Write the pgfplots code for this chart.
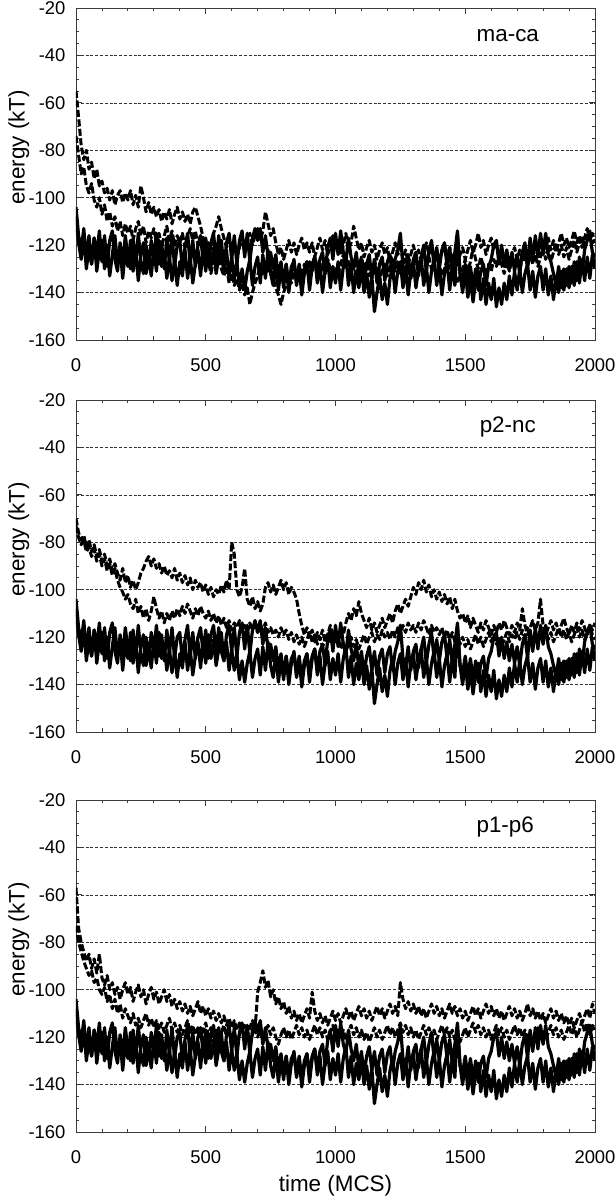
\documentclass[border=0pt]{standalone}
\usepackage{pgfplots}
\usepackage{pgfplotstable}
\usepackage{fontspec}
\setmainfont{Liberation Sans}
\pgfplotsset{compat=1.18}

\pgfplotstableread[row sep=\\]{y\\
-108\\-119\\-126\\-116\\-130\\-121\\-128\\-117\\-131\\-122\\
-118\\-130\\-120\\-133\\-124\\-116\\-128\\-121\\-134\\-122\\
-129\\-118\\-131\\-122\\-135\\-124\\-119\\-132\\-125\\-133\\
-121\\-131\\-118\\-129\\-123\\-134\\-125\\-135\\-126\\-137\\
-127\\-133\\-122\\-134\\-125\\-136\\-128\\-122\\-133\\-121\\
-131\\-119\\-129\\-121\\-132\\-125\\-118\\-130\\-122\\-134\\
-125\\-134\\-127\\-138\\-130\\-139\\-131\\-126\\-137\\-129\\
-125\\-136\\-124\\-134\\-122\\-132\\-137\\-127\\-139\\-129\\
-138\\-128\\-140\\-131\\-126\\-137\\-129\\-141\\-132\\-127\\
-139\\-129\\-125\\-136\\-128\\-140\\-131\\-126\\-138\\-129\\
-136\\-127\\-139\\-129\\-124\\-137\\-128\\-140\\-131\\-138\\
-129\\-140\\-132\\-142\\-133\\-148\\-140\\-133\\-143\\-136\\
-145\\-134\\-129\\-140\\-131\\-127\\-138\\-129\\-141\\-131\\
-127\\-138\\-130\\-125\\-137\\-129\\-140\\-131\\-126\\-137\\
-129\\-141\\-132\\-127\\-139\\-129\\-137\\-116\\-132\\-140\\
-130\\-142\\-134\\-144\\-135\\-131\\-143\\-134\\-145\\-136\\
-143\\-134\\-146\\-138\\-145\\-136\\-143\\-133\\-141\\-131\\
-139\\-130\\-140\\-132\\-128\\-139\\-131\\-142\\-133\\-129\\
-139\\-130\\-141\\-133\\-143\\-134\\-140\\-131\\-139\\-130\\
-138\\-129\\-137\\-127\\-136\\-126\\-135\\-125\\-134\\-124\\
-130\\}\tR

\pgfplotstableread[row sep=\\]{y\\
-104\\-116\\-122\\-113\\-126\\-116\\-128\\-117\\-124\\-114\\
-127\\-116\\-129\\-118\\-114\\-126\\-131\\-119\\-128\\-116\\
-125\\-130\\-117\\-128\\-115\\-127\\-132\\-120\\-129\\-118\\
-126\\-115\\-128\\-119\\-130\\-117\\-127\\-116\\-129\\-120\\
-118\\-130\\-121\\-115\\-128\\-118\\-129\\-120\\-116\\-127\\
-117\\-129\\-119\\-115\\-127\\-116\\-126\\-130\\-119\\-115\\
-126\\-116\\-128\\-118\\-114\\-125\\-115\\-127\\-117\\-113\\
-118\\-113\\-123\\-116\\-125\\-123\\-130\\-124\\-134\\-127\\
-136\\-128\\-137\\-129\\-127\\-136\\-128\\-138\\-130\\-127\\
-136\\-128\\-125\\-134\\-126\\-123\\-132\\-121\\-117\\-126\\
-115\\-124\\-114\\-123\\-127\\-117\\-125\\-130\\-123\\-133\\
-126\\-136\\-128\\-124\\-134\\-126\\-136\\-128\\-125\\-135\\
-127\\-124\\-134\\-126\\-122\\-115\\-129\\-133\\-124\\-134\\
-126\\-123\\-133\\-125\\-120\\-131\\-123\\-118\\-129\\-121\\
-130\\-122\\-119\\-129\\-121\\-131\\-123\\-114\\-132\\-135\\
-128\\-137\\-129\\-138\\-130\\-139\\-131\\-128\\-137\\-129\\
-126\\-120\\-118\\-128\\-120\\-129\\-122\\-130\\-123\\-131\\
-124\\-132\\-123\\-119\\-129\\-117\\-126\\-116\\-125\\-115\\
-123\\-115\\-124\\-127\\-132\\-137\\-129\\-138\\-130\\-137\\
-129\\-136\\-127\\-135\\-125\\-132\\-122\\-118\\-115\\-123\\
-125\\}\tS

\pgfplotstableread[row sep=\\]{y\\
-55\\-66\\-78\\-84\\-80\\-88\\-85\\-92\\-88\\-95\\
-93\\-98\\-96\\-101\\-97\\-103\\-99\\-97\\-102\\-98\\
-101\\-97\\-103\\-99\\-104\\-95\\-100\\-106\\-102\\-107\\
-104\\-108\\-105\\-110\\-106\\-109\\-105\\-111\\-107\\-104\\
-109\\-106\\-110\\-107\\-111\\-106\\-104\\-108\\-112\\-117\\
-121\\-127\\-132\\-126\\-129\\-124\\-130\\-133\\-129\\-136\\
-132\\-137\\-134\\-139\\-136\\-141\\-138\\-145\\-140\\-136\\
-133\\-128\\-132\\-127\\-131\\-128\\-134\\-138\\-141\\-145\\
-140\\-137\\-133\\-136\\-131\\-134\\-129\\-133\\-128\\-131\\
-127\\-131\\-125\\-129\\-133\\-128\\-132\\-126\\-130\\-134\\
-129\\-133\\-128\\-124\\-130\\-126\\-131\\-127\\-133\\-129\\
-125\\-130\\-127\\-133\\-129\\-126\\-131\\-135\\-130\\-128\\
-133\\-129\\-126\\-131\\-127\\-132\\-128\\-125\\-130\\-134\\
-129\\-126\\-131\\-127\\-123\\-129\\-125\\-130\\-127\\-132\\
-128\\-133\\-130\\-126\\-131\\-135\\-132\\-136\\-133\\-130\\
-126\\-131\\-127\\-121\\-126\\-130\\-125\\-129\\-133\\-128\\
-131\\-126\\-129\\-124\\-128\\-132\\-127\\-131\\-126\\-129\\
-125\\-130\\-126\\-122\\-127\\-123\\-128\\-124\\-129\\-125\\
-121\\-126\\-122\\-127\\-123\\-119\\-124\\-120\\-125\\-121\\
-126\\-122\\-118\\-123\\-119\\-116\\-121\\-117\\-114\\-119\\
-118\\}\pAa

\pgfplotstableread[row sep=\\]{y\\
-74\\-82\\-90\\-87\\-95\\-98\\-94\\-101\\-104\\-100\\
-107\\-103\\-110\\-106\\-112\\-108\\-114\\-110\\-116\\-111\\
-115\\-112\\-118\\-113\\-110\\-116\\-112\\-119\\-114\\-117\\
-113\\-119\\-115\\-121\\-116\\-112\\-118\\-114\\-120\\-116\\
-119\\-115\\-121\\-117\\-113\\-118\\-114\\-120\\-116\\-121\\
-118\\-124\\-120\\-115\\-112\\-108\\-113\\-117\\-121\\-118\\
-123\\-119\\-125\\-121\\-117\\-122\\-118\\-115\\-120\\-116\\
-113\\-118\\-114\\-106\\-111\\-116\\-113\\-119\\-124\\-121\\
-126\\-122\\-118\\-123\\-119\\-124\\-120\\-117\\-122\\-119\\
-123\\-119\\-125\\-121\\-117\\-122\\-118\\-124\\-120\\-116\\
-121\\-118\\-124\\-120\\-115\\-122\\-119\\-112\\-117\\-122\\
-119\\-125\\-121\\-118\\-123\\-120\\-126\\-122\\-119\\-124\\
-121\\-127\\-123\\-119\\-124\\-121\\-126\\-122\\-128\\-124\\
-120\\-125\\-122\\-127\\-123\\-119\\-124\\-121\\-126\\-122\\
-127\\-123\\-120\\-125\\-121\\-127\\-123\\-128\\-124\\-121\\
-126\\-122\\-118\\-123\\-120\\-115\\-121\\-118\\-124\\-120\\
-117\\-122\\-119\\-125\\-121\\-126\\-123\\-128\\-124\\-121\\
-126\\-122\\-127\\-124\\-129\\-125\\-121\\-126\\-123\\-119\\
-124\\-120\\-117\\-122\\-118\\-123\\-119\\-115\\-120\\-117\\
-121\\-118\\-114\\-119\\-116\\-121\\-117\\-113\\-118\\-115\\
-119\\}\pAb

\pgfplotstableread[row sep=\\]{y\\
-70\\-76\\-79\\-77\\-82\\-79\\-84\\-81\\-86\\-83\\
-88\\-85\\-90\\-87\\-92\\-89\\-93\\-96\\-91\\-97\\
-94\\-99\\-96\\-100\\-97\\-93\\-91\\-88\\-86\\-90\\
-87\\-91\\-89\\-93\\-90\\-94\\-92\\-95\\-91\\-96\\
-93\\-97\\-94\\-98\\-95\\-100\\-96\\-99\\-97\\-101\\
-98\\-102\\-99\\-103\\-100\\-102\\-98\\-101\\-96\\-100\\
-80\\-85\\-100\\-103\\-99\\-91\\-104\\-107\\-103\\-108\\
-105\\-109\\-106\\-99\\-97\\-101\\-98\\-102\\-99\\-96\\
-100\\-97\\-102\\-99\\-101\\-104\\-110\\-115\\-119\\-116\\
-120\\-117\\-122\\-118\\-121\\-117\\-122\\-119\\-115\\-120\\
-117\\-121\\-116\\-119\\-114\\-110\\-113\\-108\\-111\\-105\\
-110\\-113\\-116\\-112\\-117\\-114\\-118\\-115\\-112\\-116\\
-113\\-110\\-114\\-109\\-106\\-110\\-107\\-104\\-107\\-103\\
-99\\-102\\-97\\-100\\-96\\-101\\-98\\-103\\-100\\-104\\
-101\\-105\\-102\\-106\\-103\\-108\\-104\\-109\\-112\\-110\\
-114\\-111\\-116\\-112\\-115\\-118\\-114\\-117\\-113\\-116\\
-119\\-115\\-118\\-114\\-117\\-113\\-116\\-119\\-115\\-118\\
-114\\-117\\-108\\-115\\-119\\-116\\-113\\-117\\-114\\-104\\
-115\\-119\\-116\\-113\\-117\\-114\\-118\\-115\\-112\\-116\\
-119\\-115\\-118\\-114\\-117\\-113\\-116\\-119\\-115\\-117\\
-114\\}\pBa

\pgfplotstableread[row sep=\\]{y\\
-73\\-78\\-81\\-79\\-84\\-82\\-86\\-83\\-88\\-85\\
-90\\-87\\-92\\-89\\-94\\-91\\-96\\-99\\-101\\-104\\
-102\\-106\\-108\\-104\\-110\\-107\\-112\\-108\\-113\\-109\\
-103\\-108\\-112\\-109\\-114\\-110\\-113\\-109\\-112\\-108\\
-111\\-107\\-110\\-106\\-109\\-112\\-108\\-111\\-107\\-110\\
-112\\-109\\-113\\-110\\-114\\-111\\-115\\-112\\-116\\-113\\
-117\\-114\\-116\\-113\\-117\\-115\\-118\\-114\\-117\\-115\\
-118\\-115\\-117\\-114\\-118\\-116\\-119\\-117\\-120\\-116\\
-119\\-117\\-121\\-118\\-122\\-119\\-123\\-120\\-124\\-121\\
-118\\-122\\-119\\-123\\-120\\-124\\-121\\-118\\-122\\-119\\
-123\\-120\\-125\\-122\\-126\\-123\\-120\\-124\\-121\\-125\\
-122\\-119\\-123\\-120\\-118\\-122\\-119\\-121\\-117\\-120\\
-118\\-121\\-117\\-120\\-116\\-119\\-115\\-118\\-114\\-117\\
-115\\-118\\-114\\-117\\-113\\-116\\-119\\-115\\-118\\-116\\
-119\\-116\\-120\\-117\\-121\\-118\\-122\\-119\\-123\\-120\\
-124\\-121\\-125\\-122\\-119\\-123\\-120\\-124\\-121\\-118\\
-122\\-119\\-123\\-120\\-124\\-121\\-118\\-122\\-119\\-121\\
-118\\-121\\-117\\-120\\-116\\-119\\-122\\-118\\-121\\-117\\
-120\\-117\\-121\\-118\\-122\\-119\\-116\\-120\\-117\\-121\\
-118\\-122\\-119\\-116\\-120\\-117\\-121\\-118\\-115\\-119\\
-121\\}\pBb

\pgfplotstableread[row sep=\\]{y\\
-57\\-74\\-80\\-84\\-88\\-85\\-91\\-87\\-93\\-85\\
-95\\-98\\-94\\-100\\-97\\-102\\-99\\-104\\-100\\-97\\
-102\\-99\\-105\\-101\\-98\\-103\\-100\\-106\\-102\\-99\\
-104\\-101\\-106\\-103\\-100\\-105\\-102\\-107\\-104\\-108\\
-105\\-109\\-106\\-110\\-107\\-111\\-108\\-105\\-110\\-107\\
-111\\-108\\-112\\-109\\-113\\-110\\-114\\-111\\-115\\-112\\
-116\\-113\\-117\\-114\\-118\\-115\\-119\\-116\\-113\\-117\\
-101\\-97\\-92\\-99\\-96\\-103\\-100\\-106\\-103\\-108\\
-105\\-110\\-107\\-112\\-109\\-113\\-110\\-114\\-111\\-108\\
-112\\-101\\-109\\-113\\-110\\-114\\-111\\-115\\-112\\-109\\
-113\\-110\\-114\\-111\\-108\\-112\\-109\\-113\\-110\\-107\\
-111\\-108\\-112\\-109\\-113\\-110\\-107\\-111\\-108\\-112\\
-109\\-106\\-110\\-107\\-111\\-97\\-104\\-108\\-105\\-109\\
-106\\-110\\-107\\-111\\-108\\-112\\-109\\-106\\-110\\-107\\
-111\\-108\\-112\\-109\\-106\\-110\\-107\\-111\\-108\\-112\\
-109\\-113\\-110\\-107\\-111\\-108\\-112\\-109\\-106\\-110\\
-107\\-111\\-108\\-112\\-109\\-113\\-110\\-107\\-111\\-108\\
-112\\-109\\-113\\-110\\-106\\-111\\-108\\-112\\-109\\-113\\
-110\\-114\\-111\\-108\\-112\\-109\\-113\\-110\\-114\\-111\\
-115\\-112\\-116\\-113\\-110\\-114\\-111\\-108\\-112\\-106\\
-110\\}\pCa

\pgfplotstableread[row sep=\\]{y\\
-73\\-80\\-84\\-88\\-91\\-94\\-92\\-97\\-95\\-100\\
-102\\-99\\-105\\-102\\-108\\-104\\-110\\-106\\-112\\-108\\
-111\\-114\\-110\\-115\\-112\\-116\\-113\\-110\\-115\\-112\\
-116\\-113\\-117\\-114\\-118\\-115\\-112\\-117\\-114\\-118\\
-115\\-119\\-116\\-113\\-118\\-115\\-119\\-116\\-120\\-117\\
-114\\-119\\-116\\-120\\-117\\-121\\-118\\-115\\-120\\-117\\
-121\\-118\\-122\\-119\\-116\\-121\\-118\\-122\\-119\\-116\\
-120\\-117\\-121\\-118\\-115\\-119\\-116\\-120\\-123\\-119\\
-116\\-120\\-117\\-121\\-118\\-115\\-119\\-116\\-120\\-117\\
-121\\-118\\-115\\-119\\-116\\-120\\-117\\-121\\-118\\-115\\
-119\\-116\\-120\\-117\\-121\\-118\\-115\\-119\\-116\\-120\\
-117\\-121\\-118\\-122\\-119\\-116\\-120\\-117\\-121\\-118\\
-115\\-119\\-116\\-120\\-117\\-114\\-118\\-115\\-119\\-116\\
-120\\-117\\-121\\-118\\-115\\-119\\-116\\-120\\-117\\-121\\
-118\\-115\\-119\\-116\\-120\\-117\\-121\\-118\\-122\\-119\\
-116\\-120\\-117\\-114\\-118\\-115\\-119\\-116\\-120\\-117\\
-121\\-118\\-115\\-119\\-116\\-120\\-117\\-121\\-118\\-115\\
-119\\-116\\-120\\-117\\-121\\-118\\-122\\-119\\-116\\-120\\
-117\\-121\\-118\\-115\\-119\\-116\\-120\\-117\\-121\\-118\\
-115\\-119\\-116\\-120\\-117\\-113\\-118\\-114\\-119\\-115\\
-118\\}\pCb

\definecolor{framec}{RGB}{60,60,60}
\pgfplotsset{
  panel/.style={
    scale only axis, width=519bp, height=332bp,
    xmin=0, xmax=2000, ymin=-160, ymax=-20,
    xtick={0,500,1000,1500,2000}, minor x tick num=4,
    ytick={-160,-140,-120,-100,-80,-60,-40,-20}, minor y tick num=3,
    tick align=inside,
    major tick length=6bp, minor tick length=3.5bp,
    axis line style={framec, line width=0.9bp},
    every tick/.style={framec, line width=0.8bp},
    /pgf/number format/assume math mode=true,
    /pgf/number format/1000 sep={},
    ticklabel style={font=\fontsize{18.5}{18.5}\selectfont},
    xticklabel style={yshift=-15bp},
    yticklabel style={xshift=-7bp},
    extra y ticks={-140,-120,-100,-80,-60,-40},
    extra y tick labels={},
    extra y tick style={grid=major, major tick length=0pt,
      major grid style={black!80, line width=0.6bp, dash pattern=on 3bp off 1.8bp}},
    ylabel={energy (kT)},
    ylabel style={font=\fontsize{22.5}{22.5}\selectfont, at={(axis description cs:-0.110,0.58)}, anchor=center, rotate=0},
    every axis plot/.append style={black, line width=3bp, line join=round, line cap=butt},
    clip=true,
  },
  sol/.style={solid, line width=3.2bp},
  dsh/.style={dash pattern=on 7bp off 2.5bp},
}

\begin{document}
\begin{tikzpicture}
\useasboundingbox (-76bp,-67bp) rectangle (540bp,1132bp);
% panel 1
\begin{axis}[panel, at={(0,792bp)}, anchor=south west]
\addplot[dsh] table[x expr=\coordindex*10, y=y] {\pAa};
\addplot[dsh] table[x expr=\coordindex*10, y=y] {\pAb};
\addplot[sol] table[x expr=\coordindex*10, y=y] {\tS};
\addplot[sol] table[x expr=\coordindex*10, y=y] {\tR};
\node[font=\fontsize{22.5}{22.5}\selectfont] at (axis description cs:0.832,0.916) {ma-ca};
\end{axis}
% panel 2
\begin{axis}[panel, at={(0,400bp)}, anchor=south west]
\addplot[dsh] table[x expr=\coordindex*10, y=y] {\pBa};
\addplot[dsh] table[x expr=\coordindex*10, y=y] {\pBb};
\addplot[sol] table[x expr=\coordindex*10, y=y] {\tS};
\addplot[sol] table[x expr=\coordindex*10, y=y] {\tR};
\node[font=\fontsize{22.5}{22.5}\selectfont] at (axis description cs:0.832,0.919) {p2-nc};
\end{axis}
% panel 3
\begin{axis}[panel, at={(0,0)}, anchor=south west,
  xlabel={time (MCS)},
  xlabel style={font=\fontsize{22.5}{22.5}\selectfont, at={(axis description cs:0.5,0)}, anchor=center, yshift=-54bp}]
\addplot[dsh] table[x expr=\coordindex*10, y=y] {\pCa};
\addplot[dsh] table[x expr=\coordindex*10, y=y] {\pCb};
\addplot[sol] table[x expr=\coordindex*10, y=y] {\tS};
\addplot[sol] table[x expr=\coordindex*10, y=y] {\tR};
\node[font=\fontsize{22.5}{22.5}\selectfont] at (axis description cs:0.827,0.919) {p1-p6};
\end{axis}
\end{tikzpicture}
\end{document}
